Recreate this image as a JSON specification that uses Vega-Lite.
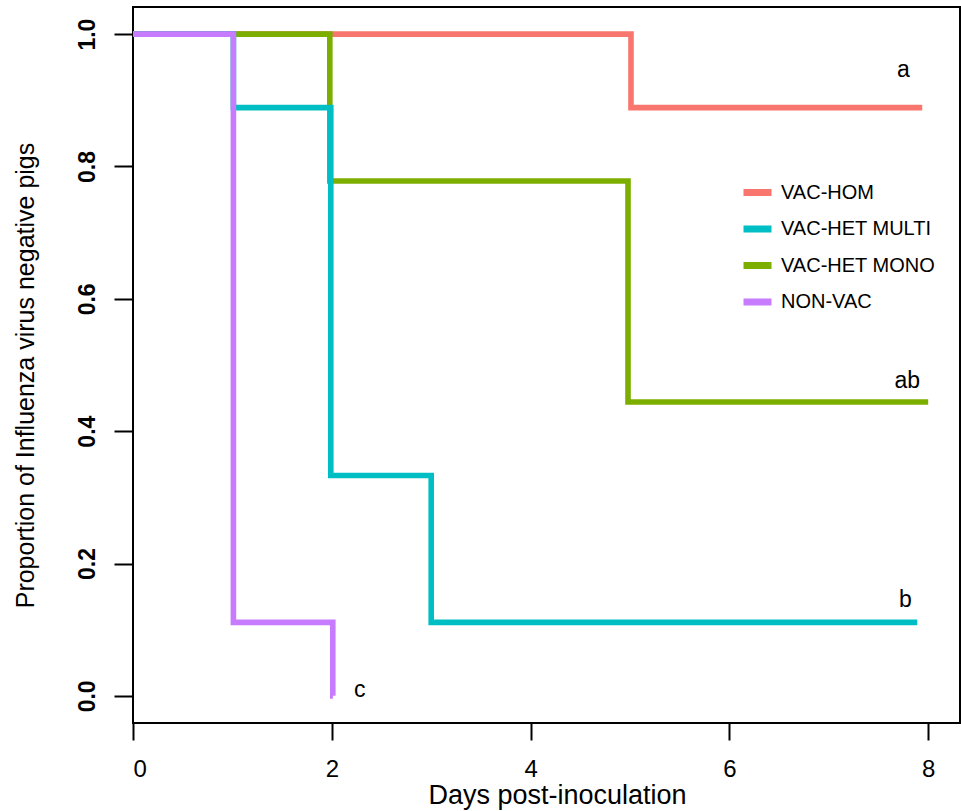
{
  "$schema": "https://vega.github.io/schema/vega-lite/v6.json",
  "width": 827,
  "height": 716,
  "autosize": {"type": "none"},
  "padding": {"left": 133, "top": 7, "right": 1, "bottom": 88},
  "background": "white",
  "config": {
    "view": {"stroke": "black", "strokeWidth": 2},
    "font": "Liberation Sans"
  },
  "layer": [
    {
      "data": {
        "values": [
          {"group": "VAC-HOM", "day": 0, "prop": 1.0},
          {"group": "VAC-HOM", "day": 5.01, "prop": 0.889},
          {"group": "VAC-HOM", "day": 7.94, "prop": 0.889},
          {"group": "VAC-HET MONO", "day": 0, "prop": 1.0},
          {"group": "VAC-HET MONO", "day": 1.98, "prop": 0.778},
          {"group": "VAC-HET MONO", "day": 4.98, "prop": 0.444},
          {"group": "VAC-HET MONO", "day": 8.0, "prop": 0.444},
          {"group": "VAC-HET MULTI", "day": 0, "prop": 1.0},
          {"group": "VAC-HET MULTI", "day": 1.01, "prop": 0.889},
          {"group": "VAC-HET MULTI", "day": 1.99, "prop": 0.333},
          {"group": "VAC-HET MULTI", "day": 3.0, "prop": 0.111},
          {"group": "VAC-HET MULTI", "day": 7.89, "prop": 0.111},
          {"group": "NON-VAC", "day": 0, "prop": 1.0},
          {"group": "NON-VAC", "day": 1.01, "prop": 0.111},
          {"group": "NON-VAC", "day": 2.01, "prop": 0.0},
          {"group": "NON-VAC", "day": 2.011, "prop": 0.0}
        ]
      },
      "mark": {"type": "line", "interpolate": "step-after", "strokeWidth": 5.6, "strokeCap": "butt", "strokeJoin": "miter", "clip": true},
      "encoding": {
        "x": {
          "field": "day", "type": "quantitative",
          "scale": {"domain": [0, 8.32], "nice": false, "zero": false},
          "axis": {
            "values": [0, 2, 4, 6, 8], "format": "d", "grid": false, "domain": false,
            "tickColor": "black", "tickWidth": 2, "tickSize": 17,
            "labelFontSize": 24, "labelColor": "black", "labelPadding": 17,
            "title": "Days post-inoculation", "titleFontSize": 27, "titleFontWeight": "normal",
            "titleColor": "black", "titlePadding": 1, "titleX": 424
          }
        },
        "y": {
          "field": "prop", "type": "quantitative",
          "scale": {"domain": [-0.041, 1.041], "nice": false, "zero": false},
          "axis": {
            "values": [0, 0.2, 0.4, 0.6, 0.8, 1.0], "format": ".1f", "grid": false, "domain": false,
            "tickColor": "black", "tickWidth": 2, "tickSize": 19,
            "labelFontSize": 23, "labelFontWeight": "bold", "labelColor": "black",
            "labelAngle": 270, "labelAlign": "center", "labelBaseline": "bottom", "labelPadding": 15,
            "title": "Proportion of Influenza virus negative pigs", "titleFontSize": 25,
            "titleFontWeight": "normal", "titleColor": "black", "titlePadding": 38, "titleY": 368
          }
        },
        "color": {
          "field": "group", "type": "nominal",
          "scale": {
            "domain": ["VAC-HOM", "VAC-HET MULTI", "VAC-HET MONO", "NON-VAC"],
            "range": ["#F8766D", "#00BFC4", "#7CAE00", "#C77CFF"]
          },
          "legend": {
            "title": null, "orient": "none", "legendX": 607, "legendY": 168,
            "symbolType": "stroke", "symbolStrokeWidth": 7, "symbolSize": 784,
            "labelFontSize": 20, "labelColor": "black", "labelOffset": 6,
            "rowPadding": 4.5
          }
        }
      }
    },
    {
      "data": {
        "values": [
          {"label": "a", "day": 7.75, "prop": 0.946},
          {"label": "ab", "day": 7.79, "prop": 0.476},
          {"label": "b", "day": 7.77, "prop": 0.145},
          {"label": "c", "day": 2.28, "prop": 0.009}
        ]
      },
      "mark": {"type": "text", "fontSize": 23, "color": "black", "align": "center", "baseline": "middle"},
      "encoding": {
        "x": {"field": "day", "type": "quantitative"},
        "y": {"field": "prop", "type": "quantitative"},
        "text": {"field": "label"}
      }
    }
  ]
}
